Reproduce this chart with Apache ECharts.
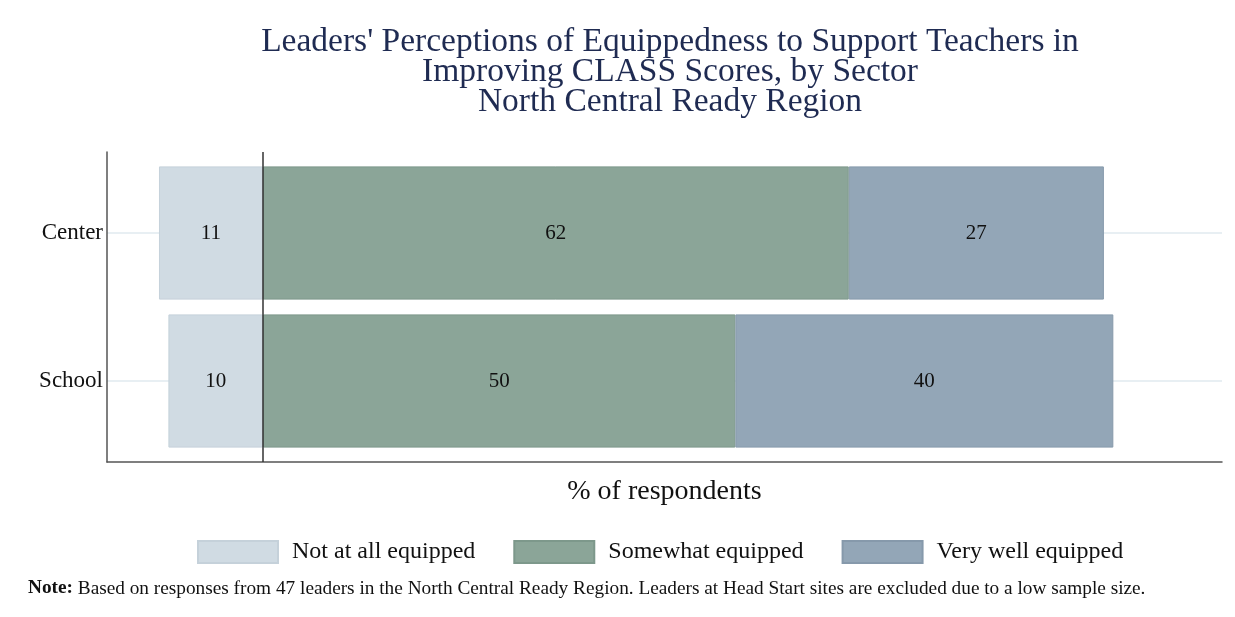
<!DOCTYPE html>
<html>
<head>
<meta charset="utf-8">
<script src="https://cdn.jsdelivr.net/npm/echarts@6/dist/echarts.min.js"></script>
<style>
  html, body { margin: 0; padding: 0; background: #fff; }
  #chart { width: 1235px; height: 617px; }
</style>
</head>
<body>
<div id="chart"></div>
<script>
// data
const sectors = ['Center', 'School'];
const notAtAll = [11, 10];
const somewhat = [62, 50];
const veryWell = [27, 40];

const serif = 'Liberation Serif';

const chart = echarts.init(document.getElementById('chart'));

const labelStyle = {
  show: true,
  position: 'inside',
  color: '#111',
  fontFamily: serif,
  fontSize: 21,
};

const axisLineStyle = { color: '#555', width: 1.5 };

const option = {
  backgroundColor: '#fff',
  animation: false,
  title: {
    text: "Leaders' Perceptions of Equippedness to Support Teachers in\nImproving CLASS Scores, by Sector\nNorth Central Ready Region",
    left: 665,
    textAlign: 'center',
    top: 22,
    textStyle: {
      fontFamily: serif,
      fontWeight: 'normal',
      fontSize: 33.5,
      lineHeight: 30,
      color: '#1f2b52',
    },
  },
  grid: [
    // bars
    { left: 107, right: 13, top: 159, bottom: 162, containLabel: false },
    // frame (axis lines + title)
    { left: 107, right: 13, top: 152, bottom: 155, containLabel: false },
  ],
  legend: {
    top: 535,
    left: 192,
    itemWidth: 80,
    itemHeight: 22,
    itemGap: 38,
    icon: 'rect',
    textStyle: {
      fontFamily: serif,
      fontSize: 24,
      color: '#111',
      padding: [0, 0, 0, 9],
    },
    data: ['Not at all equipped', 'Somewhat equipped', 'Very well equipped'],
  },
  xAxis: [
    {
      gridIndex: 0,
      type: 'value',
      min: -16.5,
      max: 101.5,
      axisLine: { show: false },
      axisTick: { show: false },
      axisLabel: { show: false },
      splitLine: { show: false },
    },
    {
      gridIndex: 1,
      type: 'value',
      min: -16.5,
      max: 101.5,
      name: '% of respondents',
      nameLocation: 'middle',
      nameGap: 16,
      nameTextStyle: {
        fontFamily: serif,
        fontSize: 28,
        color: '#111',
      },
      axisLine: { show: true, onZero: false, lineStyle: axisLineStyle },
      axisTick: { show: false },
      axisLabel: { show: false },
      splitLine: { show: false },
    },
  ],
  yAxis: [
    {
      gridIndex: 0,
      type: 'category',
      data: sectors,
      inverse: true,
      axisLine: { show: false },
      axisTick: { show: false },
      axisLabel: {
        fontFamily: serif,
        fontSize: 23,
        color: '#111',
        margin: 4,
      },
      splitLine: { show: false },
    },
    {
      gridIndex: 1,
      type: 'value',
      min: 0,
      max: 1,
      axisLine: { show: true, onZero: false, lineStyle: axisLineStyle },
      axisTick: { show: false },
      axisLabel: { show: false },
      splitLine: { show: false },
    },
  ],
  series: [
    {
      // gridlines at category centres, drawn behind bars
      type: 'line',
      name: 'grid',
      xAxisIndex: 0,
      yAxisIndex: 0,
      data: [],
      z: 0,
      silent: true,
      markLine: {
        z: 0,
        symbol: 'none',
        silent: true,
        label: { show: false },
        lineStyle: { color: '#e8eff3', width: 2, type: 'solid' },
        data: sectors.map(s => ({ yAxis: s })),
      },
    },
    {
      name: 'Not at all equipped',
      type: 'bar',
      stack: 'neg',
      barWidth: '90%',
      data: notAtAll.map(v => -v),
      itemStyle: { color: '#d0dbe3', borderColor: '#c5d1da', borderWidth: 1 },
      label: { ...labelStyle, formatter: p => Math.abs(p.value) },
      z: 2,
    },
    {
      name: 'Somewhat equipped',
      type: 'bar',
      stack: 'pos',
      barWidth: '90%',
      barGap: '-100%',
      data: somewhat,
      itemStyle: { color: '#8ba598', borderColor: '#7d988b', borderWidth: 1 },
      label: labelStyle,
      z: 2,
    },
    {
      name: 'Very well equipped',
      type: 'bar',
      stack: 'pos',
      barWidth: '90%',
      data: veryWell,
      itemStyle: { color: '#93a6b7', borderColor: '#8699ab', borderWidth: 1 },
      label: labelStyle,
      z: 2,
    },
    {
      // zero reference line across the full frame
      type: 'line',
      name: 'zero',
      xAxisIndex: 1,
      yAxisIndex: 1,
      data: [],
      z: 5,
      silent: true,
      markLine: {
        z: 6,
        symbol: 'none',
        silent: true,
        label: { show: false },
        lineStyle: { color: '#333', width: 1.5, type: 'solid' },
        data: [{ xAxis: 0 }],
      },
    },
  ],
  graphic: [
    {
      type: 'text',
      left: 28,
      top: 579,
      style: {
        text: '{b|Note:} Based on responses from 47 leaders in the North Central Ready Region. Leaders at Head Start sites are excluded due to a low sample size.',
        rich: {
          b: { fontFamily: serif, fontSize: 19.3, fontWeight: 'bold', fill: '#111' },
        },
        fontFamily: serif,
        fontSize: 19.3,
        fill: '#111',
      },
    },
  ],
};

chart.setOption(option);
</script>
</body>
</html>
